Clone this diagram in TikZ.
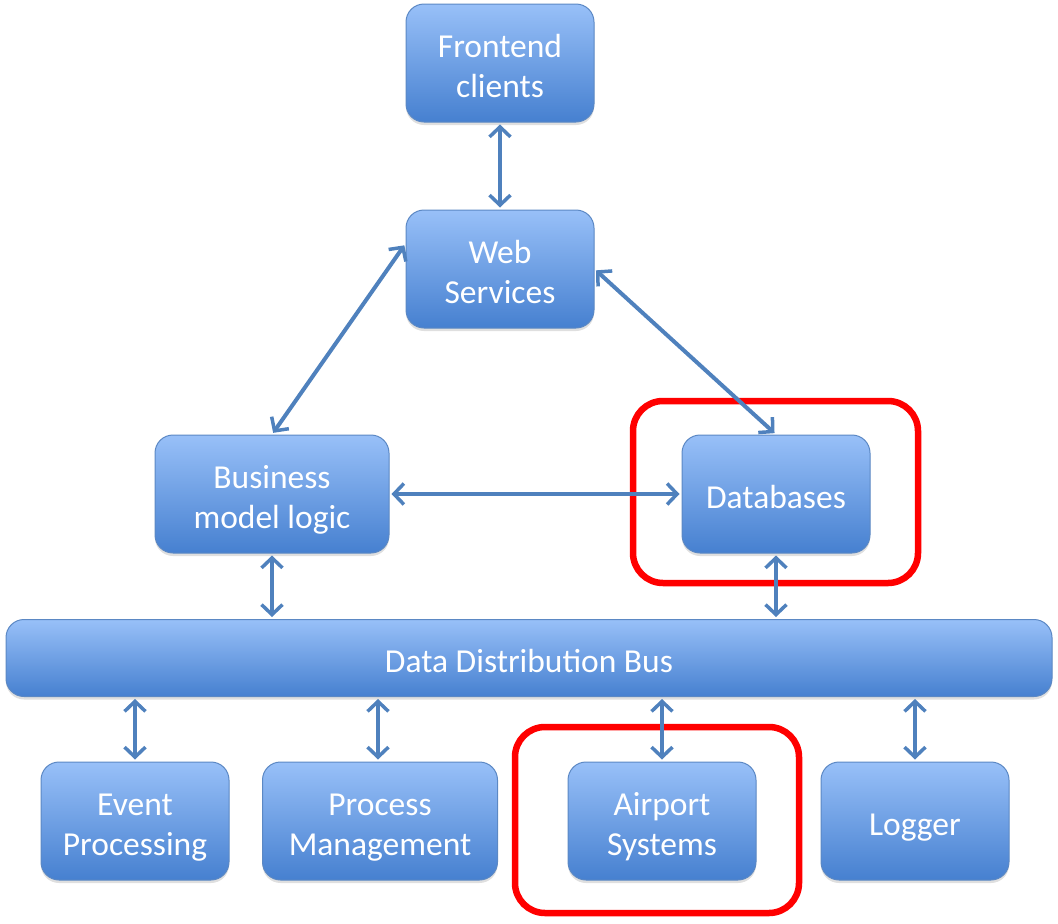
\documentclass[tikz,border=0pt]{standalone}
\usepackage{fontspec}
\setmainfont{Carlito}
\usetikzlibrary{arrows.meta,shadows,calc}
\definecolor{boxtop}{HTML}{98C0F8}
\definecolor{boxbot}{HTML}{4680D0}
\definecolor{boxline}{HTML}{5B88C4}
\definecolor{arrcol}{HTML}{4F81BD}
\definecolor{hilite}{HTML}{FF0000}
\newcommand\btxt[1]{\begin{tabular}{@{}c@{}}\rule{0pt}{40pt}#1\end{tabular}}
\tikzset{
  blk/.style={rectangle, rounded corners=18pt, draw=boxline, line width=1pt,
    top color=boxtop, bottom color=boxbot, text=white,
    minimum width=188pt, minimum height=118pt, inner sep=0pt,
    font=\fontsize{33.5}{40}\selectfont,
    drop shadow={opacity=0.25, shadow xshift=0pt, shadow yshift=-3pt}},
  arr/.style={draw=arrcol, line width=4pt,
    {Straight Barb[length=10pt,width=21pt,line width=3.5pt]}-{Straight Barb[length=10pt,width=21pt,line width=3.5pt]},
    shorten <=2pt, shorten >=2pt},
  redbox/.style={draw=hilite, line width=6.5pt, rounded corners=30pt}
}
\begin{document}
\begin{tikzpicture}[x=1pt,y=-1pt]
\useasboundingbox (0,0) rectangle (1058,924);
% highlight frames
\draw[redbox] (633,401) rectangle (918,583);
\draw[redbox] (515,727) rectangle (799,913);
% boxes
\node[blk] (fe) at (500,63) {\btxt{Frontend\\clients}};
\node[blk] (ws) at (500,269) {\btxt{Web\\Services}};
\node[blk, minimum width=234pt] (bl) at (272,494) {\btxt{Business\\model logic}};
\node[blk] (db) at (776,494) {\btxt{Databases}};
\node[blk, minimum width=1046pt, minimum height=77pt] (bus) at (529,658) {\btxt{Data Distribution Bus}};
\node[blk] (ev) at (135,821) {\btxt{Event\\Processing}};
\node[blk, minimum width=235pt] (pm) at (380,821) {\btxt{Process\\Management}};
\node[blk] (ap) at (662,821) {\btxt{Airport\\Systems}};
\node[blk] (lg) at (915,821) {\btxt{Logger}};
% connectors
\draw[arr] (fe.south) -- (ws.north);
\draw[arr] (ws.165) -- (bl.north);
\draw[arr] (ws.east) -- (db.north);
\draw[arr] (bl.east) -- (db.west);
\draw[arr] (bl.south) -- (bl.south |- bus.north);
\draw[arr] (db.south) -- (db.south |- bus.north);
\draw[arr] (ev.north |- bus.south) -- (ev.north);
\draw[arr] ($(pm.north |- bus.south)+(-2,0)$) coordinate (pmt) -- (pmt |- pm.north);
\draw[arr] (ap.north |- bus.south) -- (ap.north);
\draw[arr] (lg.north |- bus.south) -- (lg.north);
\end{tikzpicture}
\end{document}
